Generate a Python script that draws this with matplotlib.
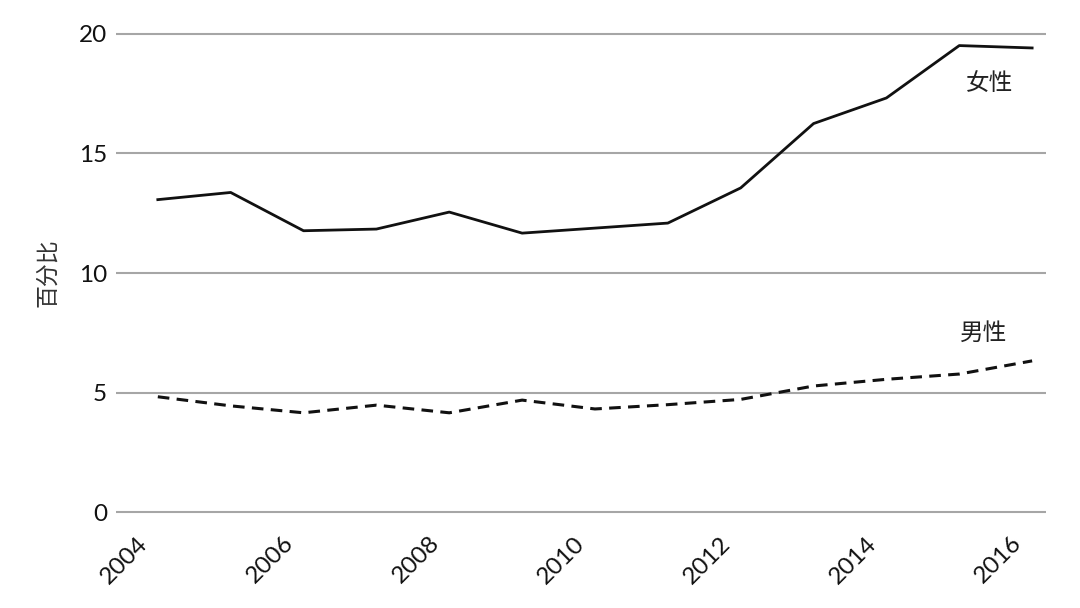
import numpy as np
import matplotlib.pyplot as plt
import matplotlib.transforms as mtransforms

years = [2004, 2005, 2006, 2007, 2008, 2009, 2010, 2011, 2012, 2013, 2014, 2015, 2016]
female = [13.07, 13.37, 11.77, 11.84, 12.55, 11.67, 11.88, 12.09, 13.56, 16.25, 17.32, 19.51, 19.41]
male = [4.83, 4.45, 4.16, 4.48, 4.16, 4.69, 4.32, 4.50, 4.72, 5.28, 5.56, 5.78, 6.33]
xticks = [2004, 2006, 2008, 2010, 2012, 2014, 2016]
yticks = [0, 5, 10, 15, 20]

plt.rcParams['font.family'] = ['Lato', 'Noto Sans CJK SC', 'DejaVu Sans']

fig = plt.figure(figsize=(10.8, 6.08), dpi=100)
ax = fig.add_axes([0.107, 0.1377, 0.8615, 0.8263])

ax.plot(years, female, color='#111111', lw=2.0, solid_joinstyle='round')
ax.plot(years, male, color='#111111', lw=2.2, dashes=(3.8, 2.4))

ax.set_xlim(2003.42, 2016.19)
ax.set_ylim(-0.5, 20.5)
ax.set_yticks(yticks)
ax.set_xticks(xticks)
ax.set_xticklabels([str(y) for y in xticks], rotation=45, ha='right',
                   rotation_mode='anchor')
ax.tick_params(axis='both', length=0, labelsize=17.5, colors='#111111')
ax.tick_params(axis='y', pad=6)
ax.tick_params(axis='x', pad=6)
# shift the rotated year labels left, like the original
shift = mtransforms.ScaledTranslation(-21 / 100, 0, fig.dpi_scale_trans)
for lab in ax.get_xticklabels():
    lab.set_transform(lab.get_transform() + shift)

ax.grid(axis='y', color='#a6a6a6', lw=1.5)
ax.set_axisbelow(True)
for s in ax.spines.values():
    s.set_visible(False)

ax.set_ylabel('百分比', fontsize=16.5, family=['Noto Sans CJK SC'], color='#333333', labelpad=14)
ax.text(2015.41, 17.93, '女性', fontsize=17, family=['Noto Sans CJK SC'], color='#222222', ha='center', va='center')
ax.text(2015.33, 7.47, '男性', fontsize=17, family=['Noto Sans CJK SC'], color='#222222', ha='center', va='center')

fig.savefig('out.png', dpi=100)
